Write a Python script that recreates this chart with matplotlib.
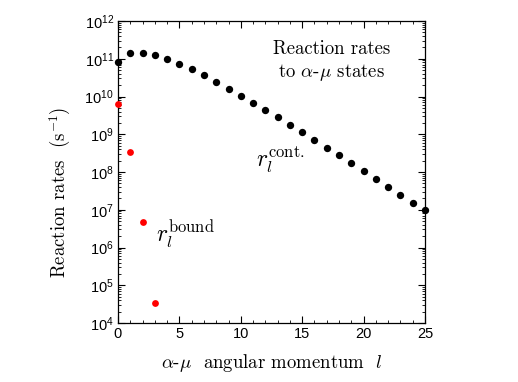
import numpy as np
import matplotlib
matplotlib.use("Agg")
import matplotlib.pyplot as plt
from matplotlib.ticker import LogLocator, MultipleLocator, NullFormatter

# sans-serif tick labels (Arial-like), serif text in Computer Modern
plt.rcParams['font.family'] = ['Liberation Sans', 'DejaVu Sans']
plt.rcParams['mathtext.fontset'] = 'custom'
plt.rcParams['mathtext.rm'] = 'Liberation Sans'
plt.rcParams['mathtext.it'] = 'Liberation Sans:italic'
plt.rcParams['mathtext.bf'] = 'Liberation Sans:bold'

# data (log10 of the rate)
l_cont = list(range(0, 26))
log_rate_cont = [10.91, 11.14, 11.16, 11.10, 10.99, 10.87, 10.72, 10.56, 10.39,
                 10.21, 10.02, 9.84, 9.64, 9.45, 9.25, 9.05, 8.86, 8.64, 8.44,
                 8.23, 8.02, 7.81, 7.60, 7.40, 7.19, 6.99]
l_bound = [0, 1, 2, 3]
log_rate_bound = [9.80, 8.52, 6.68, 4.52]

rate_cont = 10.0 ** np.array(log_rate_cont)
rate_bound = 10.0 ** np.array(log_rate_bound)

serif = dict(family='cmr10', math_fontfamily='cm')

fig = plt.figure(figsize=(5.18, 3.82), dpi=100)
ax = fig.add_axes([118 / 518, 1 - 323 / 382, (425 - 118) / 518, (323 - 21) / 382])

ax.scatter(l_cont, rate_cont, s=28, color='black', zorder=3, clip_on=False, linewidths=0)
ax.scatter(l_bound, rate_bound, s=24, color='#ff0000', zorder=3, clip_on=False, linewidths=0)

ax.set_yscale('log')
ax.set_xlim(0, 25)
ax.set_ylim(1e4, 1e12)
ax.xaxis.set_major_locator(MultipleLocator(5))
ax.xaxis.set_minor_locator(MultipleLocator(1))
ax.yaxis.set_major_locator(LogLocator(base=10, numticks=20))
ax.yaxis.set_minor_locator(LogLocator(base=10, subs=np.arange(2, 10), numticks=20))
ax.yaxis.set_minor_formatter(NullFormatter())

ax.tick_params(which='both', direction='in', top=True, right=True, labelsize=10.5, pad=3)
ax.tick_params(which='major', length=5, width=0.8)
ax.tick_params(which='minor', length=2.5, width=0.6)
for sp in ax.spines.values():
    sp.set_linewidth(0.9)

ax.set_ylabel(r'Reaction rates  (s$^{-1}$)', fontsize=13.5, **serif)
ax.yaxis.set_label_coords(-0.147, 0.434)
ax.set_xlabel(r'$\alpha$-$\mu$  angular momentum  $l$', fontsize=13.5, labelpad=8, **serif)

ax.text(0.697, 0.865, 'Reaction rates\nto $\\alpha$-$\\mu$ states', transform=ax.transAxes,
        ha='center', va='center', fontsize=13.5, linespacing=1.3, **serif)
ax.text(0.45, 0.54, r'$r_l^{\mathrm{cont.}}$', transform=ax.transAxes,
        ha='left', va='center', fontsize=17, **serif)
ax.text(0.125, 0.29, r'$r_l^{\mathrm{bound}}$', transform=ax.transAxes,
        ha='left', va='center', fontsize=17, **serif)

fig.savefig('out.png', dpi=100)
